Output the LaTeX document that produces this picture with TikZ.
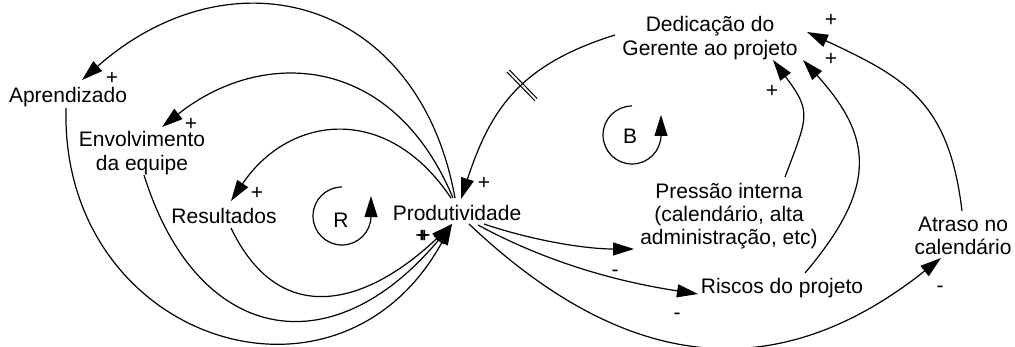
\documentclass[tikz,border=0pt]{standalone}
\usepackage{fontspec}
\setmainfont{Liberation Sans}
\usetikzlibrary{arrows.meta,decorations.markings}
\tikzset{
  var/.style={font=\fontsize{10.5}{11.6}\selectfont,align=center,inner sep=1pt},
  sgn/.style={font=\fontsize{10.5}{11.6}\selectfont,inner sep=0pt},
  link/.style={line width=0.6pt,-{Triangle[length=10.5pt,width=6.5pt]}},
  delay/.style={postaction={decorate,decoration={markings,mark=at position #1 with {\draw[-,line width=0.5pt] (-1.6,-20)--(-1.6,20) (1.6,-20)--(1.6,20);}}}}
}
\begin{document}
\begin{tikzpicture}[x=0.5pt,y=-0.5pt]
\useasboundingbox (0,0) rectangle (1015,347);
% variaveis
\node[var] (apr) at (68,97) {Aprendizado};
\node[var] (env) at (142,153) {Envolvimento\\da equipe};
\node[var] (res) at (224,216) {Resultados};
\node[var] (prod) at (457,213) {Produtividade};
\node[var] (ded) at (710,38) {Dedicação do\\Gerente ao projeto};
\node[var] (pres) at (729,216) {Pressão interna\\(calendário, alta\\administração, etc)};
\node[var] (ris) at (782,288) {Riscos do projeto};
\node[var] (atr) at (963,236) {Atraso no\\calendário};
% lacos
\node[var] (ltr) at (341,220) {R};
\node[var] (ltb) at (630,136) {B};
\draw[link] ([shift={(1,-33)}]ltr.center) arc[start angle=270,end angle=0,radius=29] -- ++(0,-20);
\draw[link] ([shift={(2,-30)}]ltb.center) arc[start angle=270,end angle=0,radius=29] -- ++(0,-20);
% produtividade -> lado esquerdo
\draw[link] ([shift={(-2,-15)}]prod.center) .. controls +(-36,-200) and +(150,-132) .. ([shift={(14,-17)}]apr.center);
\draw[link] ([shift={(-4,-15)}]prod.center) .. controls +(-61,-146) and +(99,-79) .. ([shift={(20,-26)}]env.center);
\draw[link] ([shift={(-6,-15)}]prod.center) .. controls +(-65,-97) and +(57,-85) .. ([shift={(7,-15)}]res.center);
\draw[link] ([shift={(-2,11)}]apr.center) .. controls +(-6,232) and +(-114,208) .. ([shift={(-5,11)}]prod.center);
\draw[link] ([shift={(2,22)}]env.center) .. controls +(52,167) and +(-122,146) .. ([shift={(-5,11)}]prod.center);
\draw[link] ([shift={(7,12)}]res.center) .. controls +(50,104) and +(-83,79) .. ([shift={(-5,11)}]prod.center);
% lado direito
\draw[link,delay=0.45] ([shift={(-95,-3)}]ded.center) .. controls +(-93,29) and +(30,-92) .. ([shift={(4,-14)}]prod.center);
\draw[link] ([shift={(56,-39)}]pres.center) .. controls +(23,-61) and +(39,52) .. ([shift={(63,22)}]ded.center);
\draw[link] ([shift={(23,-15)}]ris.center) .. controls +(73,-86) and +(70,77) .. ([shift={(93,22)}]ded.center);
\draw[link] ([shift={(-1,-25)}]atr.center) .. controls +(-13,-109) and +(99,46) .. ([shift={(97,-6)}]ded.center);
\draw[link] ([shift={(27,11)}]prod.center) .. controls +(47,16) and +(-50,0) .. ([shift={(-95,33)}]pres.center);
\draw[link] ([shift={(21,12)}]prod.center) .. controls +(70,38) and +(-79,-12) .. ([shift={(-84,6)}]ris.center);
\draw[link] ([shift={(12,11)}]prod.center) .. controls +(151,143) and +(-170,135) .. ([shift={(-22,22)}]atr.center);
% polaridades
\node[sgn] (p1) at (112,78) {+};
\node[sgn] (p2) at (191,124) {+};
\node[sgn] (p3) at (257,193) {+};
\node[sgn] (p4) at (484,183) {+};
\node[sgn] (p5) at (423,236) {\rlap{+}\kern0.7pt\rlap{+}\kern0.7pt+};
\node[sgn] (p6) at (772,91) {+};
\node[sgn] (p7) at (831,59) {+};
\node[sgn] (p8) at (831,20) {+};
\node[sgn] (m1) at (615,273) {-};
\node[sgn] (m2) at (677,316) {-};
\node[sgn] (m3) at (940,289) {-};
\end{tikzpicture}
\end{document}
